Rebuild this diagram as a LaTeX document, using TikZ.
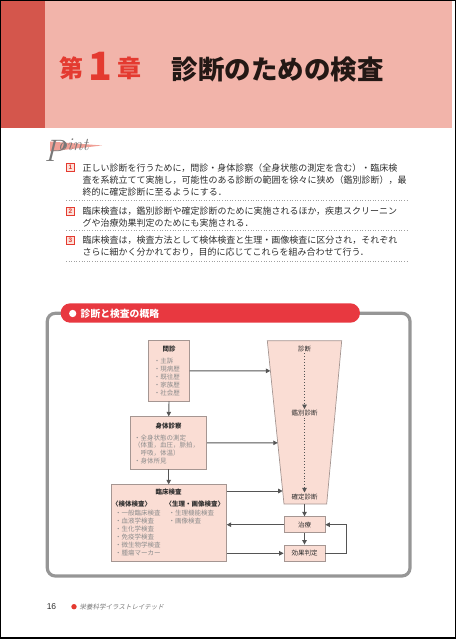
\documentclass[tikz,border=0pt]{standalone}
\usepackage{fontspec}
\usepackage{xcolor}
\usepackage{tikz}
\usetikzlibrary{arrows.meta,positioning,calc}

\newfontfamily\jp{Noto Sans CJK JP}
\newfontfamily\jpslant[FakeSlant=0.2]{Noto Sans CJK JP}
\newfontfamily\latinsans{Liberation Sans}

\definecolor{stripered}{RGB}{212,86,76}
\definecolor{headpink}{RGB}{242,180,170}
\definecolor{chapred}{RGB}{228,58,48}
\definecolor{titleink}{RGB}{35,24,21}
\definecolor{pointgray}{RGB}{120,120,120}
\definecolor{pointpink}{RGB}{240,160,150}
\definecolor{numpink}{RGB}{252,226,218}
\definecolor{textink}{RGB}{45,45,45}
\definecolor{sepgray}{RGB}{160,160,160}
\definecolor{barred}{RGB}{232,56,64}
\definecolor{framegray}{RGB}{150,150,150}
\definecolor{boxpink}{RGB}{250,221,212}
\definecolor{boxline}{RGB}{165,150,146}
\definecolor{arrowgray}{RGB}{85,85,85}
\definecolor{itemgray}{RGB}{140,140,140}

\begin{document}
\begin{tikzpicture}[
  x=1pt, y=-1pt,
  font=\jp,
  chapter/.style={font=\jp\bfseries\fontsize{24}{24}\selectfont, text=chapred,
                  inner sep=0pt},
  heading/.style={font=\jp\bfseries\fontsize{26.5}{26.5}\selectfont,
                  text=titleink, inner sep=0pt},
  numbox/.style={rectangle, draw=chapred, fill=numpink, text=chapred,
                 line width=0.6pt, minimum size=8pt, inner sep=0pt,
                 font=\latinsans\bfseries\fontsize{6.5}{6.5}\selectfont},
  pointtext/.style={anchor=west, align=left, inner sep=0pt, text=textink,
                    font=\jp\fontsize{9}{12}\selectfont},
  sepline/.style={draw=sepgray, dotted, line width=0.6pt},
  box/.style={rectangle, draw=boxline, fill=boxpink, line width=0.7pt,
              inner sep=0pt},
  funnel/.style={draw=boxline, fill=boxpink, line width=0.7pt},
  boxtitle/.style={inner sep=0pt, text=textink,
                   font=\jp\bfseries\fontsize{6.5}{6.5}\selectfont},
  boxlist/.style={anchor=west, align=left, inner sep=0pt, text=itemgray,
                  font=\jp\fontsize{6.5}{#1}\selectfont},
  dxtext/.style={inner sep=1pt, text=textink,
                 font=\jp\fontsize{6.5}{6.5}\selectfont},
  arrow/.style={-{Triangle[length=4.5pt,width=4.5pt]}, draw=arrowgray,
                line width=0.9pt},
  dotarrow/.style={arrow, dotted, line width=0.8pt},
]
  \useasboundingbox (0,0) rectangle (457,639);

  % chapter header
  \fill[stripered] (1,1) rectangle (45,128);
  \fill[headpink] (45,1) rectangle (452,128);
  \node[chapter] (dai) at (71.7,68.4) {第};
  \node[chapter, font=\jp\bfseries\fontsize{39}{39}\selectfont, anchor=base]
    (ichi) at (100,81) {1};
  \node[chapter] (sho) at (129.2,68.4) {章};
  \node[heading] (midashi) at (277.5,69.4) {診断のための検査};

  % point
  \fill[pointpink] (50,141.5) -- (102,145.5) -- (50,151.5) -- cycle;
  \node[text=pointgray, inner sep=0pt, anchor=base west,
        font=\itshape\fontsize{31}{31}\selectfont] (bigp) at (44,161.5) {P};
  \node[text=pointgray, inner sep=0pt, anchor=base west,
        font=\itshape\fontsize{18}{18}\selectfont] (oint) at (58,150.7) {oint};

  \node[numbox] (num1) at (70.5,167.7) {1};
  \node[pointtext] (item1) at (82.5,179.7)
    {正しい診断を行うために，問診・身体診察（全身状態の測定を含む）・臨床検\\
     査を系統立てて実施し，可能性のある診断の範囲を徐々に狭め（鑑別診断），最\\
     終的に確定診断に至るようにする．};
  \draw[sepline] (66,200) -- (407,200);

  \node[numbox] (num2) at (70.5,211) {2};
  \node[pointtext] (item2) at (82.5,217)
    {臨床検査は，鑑別診断や確定診断のために実施されるほか，疾患スクリーニン\\
     グや治療効果判定のためにも実施される．};
  \draw[sepline] (66,230) -- (407,230);

  \node[numbox] (num3) at (70.5,240) {3};
  \node[pointtext] (item3) at (82.5,246)
    {臨床検査は，検査方法として検体検査と生理・画像検査に区分され，それぞれ\\
     さらに細かく分かれており，目的に応じてこれらを組み合わせて行う．};
  \draw[sepline] (66,261) -- (407,261);

  % overview frame
  \draw[framegray, line width=3.2pt, rounded corners=8pt]
    (47.3,313.3) rectangle (410,576);
  \node[fill=barred, rounded corners=9.6pt, minimum width=299.3pt,
        minimum height=19.4pt, inner sep=0pt] (bar) at (210.3,313) {};
  \node[circle, fill=white, minimum size=7.3pt, inner sep=0pt]
    (bullet) at (72.7,313.5) {};
  \node[anchor=west, inner sep=0pt, text=white,
        font=\jp\bfseries\fontsize{9.8}{9.8}\selectfont]
    (bartitle) at (80.5,313.5) {診断と検査の概略};

  % left column
  \node[box, minimum width=40.6pt, minimum height=60.3pt] (mondo)
    at (169,370.85) {};
  \node[boxtitle] (mondotitle) at (169,349.5) {問診};
  \node[boxlist=8.1] (mondolist) at (153.7,377.2)
    {・主訴\\・現病歴\\・既往歴\\・家族歴\\・社会歴};

  \node[box, minimum width=76pt, minimum height=52.3pt] (shintai)
    at (168.7,442.85) {};
  \node[boxtitle] (shintaititle) at (168.7,425.7) {身体診察};
  \node[boxlist=7.7] (shintailist) at (134,449.25)
    {・全身状態の測定\\（体重，血圧，脈拍，\\　呼吸，体温）\\・身体所見};

  \node[box, minimum width=115.3pt, minimum height=76.3pt] (rinsho)
    at (168.7,522.85) {};
  \node[boxtitle] (rinshotitle) at (168.5,492.5) {臨床検査};
  \node[boxtitle, anchor=west] (kentai) at (112,504) {〈検体検査〉};
  \node[boxtitle, anchor=west] (seiri) at (165.5,504) {〈生理・画像検査〉};
  \node[boxlist=8] (kentailist) at (115,533)
    {・一般臨床検査\\・血液学検査\\・生化学検査\\・免疫学検査\\・微生物学検査\\・腫瘍マーカー};
  \node[boxlist=8] (seirilist) at (168.5,517)
    {・生理機能検査\\・画像検査};

  % diagnosis funnel
  \coordinate (trapTL) at (267.3,340.7);
  \coordinate (trapTR) at (341.7,340.7);
  \coordinate (trapBR) at (326.7,504);
  \coordinate (trapBL) at (284,504);
  \draw[funnel] (trapTL) -- (trapTR) -- (trapBR) -- (trapBL) -- cycle;
  \coordinate (edgeA) at ($(trapTL)!0.1846!(trapBL)$);
  \coordinate (edgeB) at ($(trapTL)!0.6255!(trapBL)$);
  \coordinate (edgeC) at ($(trapTL)!0.9204!(trapBL)$);
  \coordinate (trapB) at ($(trapBL)!0.5!(trapBR)$);

  \node[dxtext] (shindan) at (304.5,349) {診断};
  \node[dxtext] (kanbetsu) at (304.5,413.3) {鑑別診断};
  \node[dxtext] (kakutei) at (304.5,496.7) {確定診断};

  \node[box, minimum width=41pt, minimum height=16pt] (chiryo)
    at (304.5,524.7) {};
  \node[dxtext] (chiryotext) at (chiryo) {治療};
  \node[box, minimum width=41pt, minimum height=16.7pt] (koka)
    at (304.5,553.3) {};
  \node[dxtext] (kokatext) at (koka) {効果判定};

  % connectors
  \draw[arrow] (mondo.south) -- (shintai.north);
  \draw[arrow] (shintai.south) -- (rinsho.north);
  \draw[arrow] (mondo.east) -- (edgeA);
  \draw[arrow] (shintai.east) -- (edgeB);
  \draw[arrow] (rinsho.east |- edgeC) -- (edgeC);
  \draw[dotarrow] (shindan) -- (kanbetsu);
  \draw[dotarrow] (kanbetsu) -- (kakutei);
  \draw[arrow] (chiryo.north |- trapB) -- (chiryo.north);
  \draw[arrow] (chiryo.west) -- (chiryo.west -| rinsho.east);
  \draw[arrow] (chiryo.south) -- (koka.north);
  \draw[arrow] (rinsho.east |- koka.west) -- (koka.west);
  \draw[arrow] (koka.east) -- ++(21,0) |- (chiryo.east);

  % footer
  \node[inner sep=0pt, text=textink,
        font=\latinsans\fontsize{8.5}{8.5}\selectfont] (pagenum)
    at (51.5,606.7) {16};
  \node[circle, fill=chapred, minimum size=5.4pt, inner sep=0pt]
    (footdot) at (74,606.7) {};
  \node[anchor=west, inner sep=0pt, text=pointgray,
        font=\jpslant\fontsize{6.5}{6.5}\selectfont] (series)
    at (79.5,606.7) {栄養科学イラストレイテッド};

  \draw[black, line width=1.2pt] (0.8,0.8) rectangle (455.5,638);
\end{tikzpicture}
\end{document}
